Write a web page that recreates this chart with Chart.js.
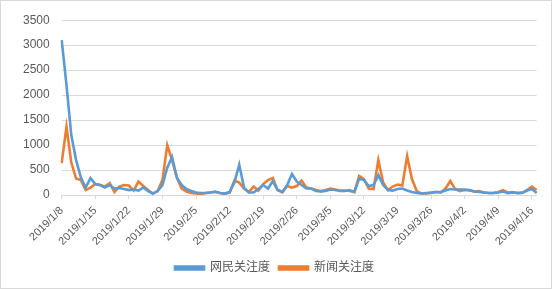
<!DOCTYPE html>
<html>
<head>
<meta charset="utf-8">
<script src="https://cdn.jsdelivr.net/npm/chart.js@4"></script>
<style>
  body { margin: 0; background: #fff; }
  #wrap { width: 552px; height: 289px; box-sizing: border-box; border: 1px solid #d9d9d9; }
</style>
</head>
<body>
<div id="wrap"><canvas id="attentionChart" width="550" height="287"></canvas></div>
<script>
/* ===============================
   DADOS
================================ */
const startDate = new Date(2019, 0, 8);
const dayCount = 100;
const labels = [];
for (let i = 0; i < dayCount; i++) {
  const d = new Date(startDate.getFullYear(), startDate.getMonth(), startDate.getDate() + i);
  labels.push(d.getFullYear() + "/" + (d.getMonth() + 1) + "/" + d.getDate());
}

const netizenValues = [
  3100, 2200, 1200, 700, 350, 150, 340, 220, 200, 150,
  200, 130, 140, 120, 100, 110, 90, 150, 80, 30,
  80, 200, 550, 760, 350, 200, 120, 80, 50, 40,
  40, 50, 70, 40, 30, 60, 250, 610, 150, 50,
  50, 120, 200, 130, 280, 100, 60, 200, 420, 270,
  200, 130, 130, 80, 70, 80, 110, 100, 80, 80,
  100, 60, 330, 300, 180, 200, 400, 200, 100, 90,
  120, 130, 90, 60, 40, 30, 40, 50, 60, 60,
  90, 120, 110, 110, 110, 100, 70, 60, 50, 40,
  40, 50, 70, 40, 50, 40, 40, 90, 120, 40
];

const newsValues = [
  640, 1370, 650, 330, 300, 100, 150, 220, 200, 170,
  240, 60, 170, 200, 190, 90, 270, 180, 100, 30,
  80, 300, 1000, 700, 350, 130, 70, 40, 30, 20,
  40, 50, 60, 40, 30, 50, 290, 250, 130, 60,
  170, 90, 220, 300, 340, 100, 60, 180, 150, 180,
  290, 150, 130, 100, 80, 100, 130, 110, 90, 90,
  80, 60, 380, 320, 130, 120, 700, 250, 100, 170,
  210, 190, 780, 320, 80, 30, 30, 40, 60, 50,
  130, 280, 120, 80, 100, 90, 70, 80, 50, 40,
  40, 60, 100, 50, 60, 40, 50, 100, 170, 100
];

const seriesNames = ["网民关注度", "新闻关注度"];
const yTicks = [0, 500, 1000, 1500, 2000, 2500, 3000, 3500];

/* ===============================
   GRÁFICO
================================ */
const fontFamily = "'Liberation Sans', 'Noto Sans CJK SC', sans-serif";
const textColor = "#595959";
const gridColor = "#d9d9d9";

new Chart(document.getElementById("attentionChart"), {
  type: "line",
  data: {
    labels,
    datasets: [
      {
        label: seriesNames[0],
        data: netizenValues,
        borderColor: "#5B9BD5",
        backgroundColor: "#5B9BD5",
        borderWidth: 2.6,
        pointRadius: 0,
        tension: 0
      },
      {
        label: seriesNames[1],
        data: newsValues,
        borderColor: "#ED7D31",
        backgroundColor: "#ED7D31",
        borderWidth: 2.6,
        pointRadius: 0,
        tension: 0
      }
    ]
  },
  options: {
    responsive: false,
    animation: false,
    layout: { padding: { left: 10, right: 13, top: 5, bottom: 4 } },
    plugins: {
      legend: {
        position: "bottom",
        labels: {
          boxWidth: 29,
          boxHeight: 3,
          padding: 9,
          color: textColor,
          font: { family: fontFamily, size: 12 }
        }
      },
      tooltip: { enabled: false }
    },
    scales: {
      x: {
        offset: false,
        grid: {
          drawOnChartArea: false,
          drawTicks: true,
          tickLength: 4,
          color: ctx => (ctx.index % 7 === 0 ? gridColor : "transparent")
        },
        border: { color: gridColor },
        ticks: {
          autoSkip: false,
          minRotation: 45,
          maxRotation: 45,
          padding: 5,
          color: textColor,
          font: { family: fontFamily, size: 11 },
          callback: (v, i) => (i % 7 === 0 ? labels[i] : "")
        }
      },
      y: {
        min: yTicks[0],
        max: yTicks[yTicks.length - 1],
        grid: { color: gridColor, drawTicks: false },
        border: { display: false },
        afterBuildTicks: axis => { axis.ticks = yTicks.map(v => ({ value: v })); },
        ticks: {
          padding: 12,
          color: textColor,
          font: { family: fontFamily, size: 12 },
          callback: v => String(v)
        }
      }
    }
  }
});
</script>
</body>
</html>
